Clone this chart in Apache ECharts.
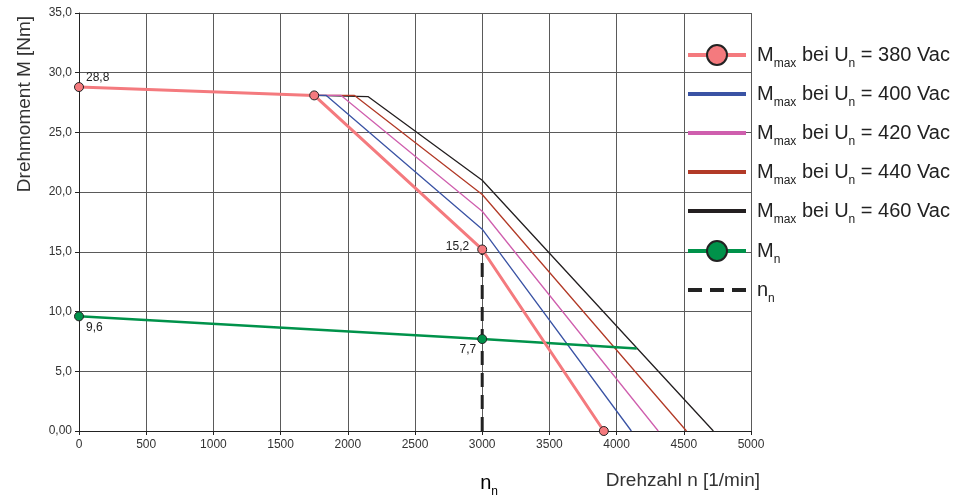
<!DOCTYPE html>
<html>
<head>
<meta charset="utf-8">
<script src="https://cdn.jsdelivr.net/npm/echarts@6/dist/echarts.min.js"></script>
<style>
html, body { margin: 0; padding: 0; background: #fff; }
#chart { width: 957px; height: 500px; }
</style>
</head>
<body>
<div id="chart"></div>
<script>
// Kennlinien (Drehzahl in 1/min, Drehmoment in Nm)
const speed380 = [0, 1750, 3000, 3905];
const torque380 = [28.8, 28.1, 15.2, 0];
const speed400 = [1750, 1840, 3000, 4110];
const torque400 = [28.1, 28.1, 16.9, 0];
const speed420 = [1750, 1950, 3000, 4310];
const torque420 = [28.1, 28.1, 18.4, 0];
const speed440 = [1750, 2050, 3000, 4520];
const torque440 = [28.1, 28.1, 19.8, 0];
const speed460 = [1750, 2150, 3000, 4720];
const torque460 = [28.1, 28.0, 21.0, 0];
const speedMn = [0, 3000, 4150];
const torqueMn = [9.6, 7.7, 6.9];
const speedNn = [3000, 3000];
const torqueNn = [0, 15.2];

const names = ['U380', 'U400', 'U420', 'U440', 'U460', 'Mn', 'nn'];
const legendTexts = [
    '{f|}{m|M}{s|max}{m| bei U}{s|n}{m| = 380 Vac}',
    '{f|}{m|M}{s|max}{m| bei U}{s|n}{m| = 400 Vac}',
    '{f|}{m|M}{s|max}{m| bei U}{s|n}{m| = 420 Vac}',
    '{f|}{m|M}{s|max}{m| bei U}{s|n}{m| = 440 Vac}',
    '{f|}{m|M}{s|max}{m| bei U}{s|n}{m| = 460 Vac}',
    '{f|}{m|M}{s|n}',
    '{f|}{m|n}{s|n}'
];
const nominalSpeed = 3000;

const fmt = v => String(v).replace('.', ',');
const pairs = (xs, ys) => xs.map((x, i) => [x, ys[i]]);

const rich = {
    f: { width: 6 },
    m: { fontSize: 20, lineHeight: 20, color: '#222', verticalAlign: 'middle' },
    s: { fontSize: 12, lineHeight: 12, color: '#222', padding: [13, 0, 0, 0], verticalAlign: 'top' }
};

const chart = echarts.init(document.getElementById('chart'));

const labelAt = (pos, distance, offset) => ({
    show: true, position: pos, distance: distance, offset: offset,
    fontSize: 12, color: '#222', fontFamily: 'Liberation Sans',
    formatter: p => fmt(p.value[1])
});

const data380 = pairs(speed380, torque380).map((v, i) => {
    if (i === 0) return { value: v, label: labelAt('right', 2, [0, -9]) };
    if (i === 2) return { value: v, label: labelAt('left', 8, [0, -3]) };
    return v;
});
const dataMn = pairs(speedMn, torqueMn).map((v, i) => {
    if (i === 0) return { value: v, label: labelAt('right', 2, [0, 11]) };
    if (i === 1) return { value: v, label: labelAt('left', 1, [0, 11]) };
    return { value: v, symbol: 'none' };
});

const thin = (name, xs, ys, color) => ({
    name: name, type: 'line', data: pairs(xs, ys), symbol: 'none',
    lineStyle: { color: color, width: 1.3 }, itemStyle: { color: color }
});

chart.setOption({
    animation: false,
    textStyle: { fontFamily: 'Liberation Sans' },
    grid: { left: 79, right: 206, top: 13, bottom: 69 },
    legend: {
        orient: 'vertical',
        left: 681,
        top: 39,
        itemWidth: 58,
        itemHeight: 25,
        itemGap: 14,
        selectedMode: false,
        lineStyle: { width: 4 },
        data: names.map((n, i) => ({
            name: n,
            itemStyle: (i === 0 || i === 5) ? { borderWidth: 2, borderColor: '#222' } : { opacity: 0 }
        })),
        formatter: n => legendTexts[names.indexOf(n)],
        textStyle: { rich: rich }
    },
    xAxis: {
        type: 'value', min: 0, max: 5000, interval: 500,
        axisLine: { show: true, lineStyle: { color: '#222' } },
        axisTick: { show: true, length: 4, lineStyle: { color: '#222' } },
        axisLabel: { fontSize: 12, color: '#333', margin: 8, formatter: v => String(v) },
        splitLine: { show: true, lineStyle: { color: '#5a5a5a', width: 1 } }
    },
    yAxis: {
        type: 'value', min: 0, max: 35, interval: 5,
        axisLine: { show: true, lineStyle: { color: '#222' } },
        axisTick: { show: true, length: 4, lineStyle: { color: '#222' } },
        axisLabel: {
            fontSize: 12, color: '#333', margin: 7,
            formatter: v => v === 0 ? '0,00' : v.toFixed(1).replace('.', ',')
        },
        splitLine: { show: true, lineStyle: { color: '#5a5a5a', width: 1 } }
    },
    series: [
        thin('U460', speed460, torque460, '#231F20'),
        thin('U440', speed440, torque440, '#B23A27'),
        thin('U420', speed420, torque420, '#CF5FAE'),
        thin('U400', speed400, torque400, '#3A53A4'),
        {
            name: 'nn', type: 'line', data: pairs(speedNn, torqueNn), symbol: 'none',
            lineStyle: { color: '#222', width: 3, type: [14, 8] },
            itemStyle: { color: '#222' }
        },
        {
            name: 'Mn', type: 'line', data: dataMn, symbol: 'circle', symbolSize: 9,
            lineStyle: { color: '#00924A', width: 2.5 },
            itemStyle: { color: '#00924A', borderColor: '#222', borderWidth: 1 }
        },
        {
            name: 'U380', type: 'line', data: data380, symbol: 'circle', symbolSize: 9,
            lineStyle: { color: '#F47A7E', width: 3 },
            itemStyle: { color: '#F47A7E', borderColor: '#222', borderWidth: 1 }
        }
    ]
});

const nx = chart.convertToPixel({ xAxisIndex: 0 }, nominalSpeed);
chart.setOption({
    graphic: [
        {
            type: 'text', x: 25, y: 104, rotation: Math.PI / 2,
            style: { text: 'Drehmoment M [Nm]', fontSize: 19, fill: '#333', align: 'center', verticalAlign: 'middle', fontFamily: 'Liberation Sans' }
        },
        {
            type: 'text', x: 760, y: 481,
            style: { text: 'Drehzahl n [1/min]', fontSize: 19, fill: '#333', align: 'right', verticalAlign: 'middle', fontFamily: 'Liberation Sans' }
        },
        {
            type: 'text', x: nx - 2, y: 473,
            style: { text: '{m|n}{s|n}', rich: rich, fontFamily: 'Liberation Sans' }
        }
    ]
});
</script>
</body>
</html>
